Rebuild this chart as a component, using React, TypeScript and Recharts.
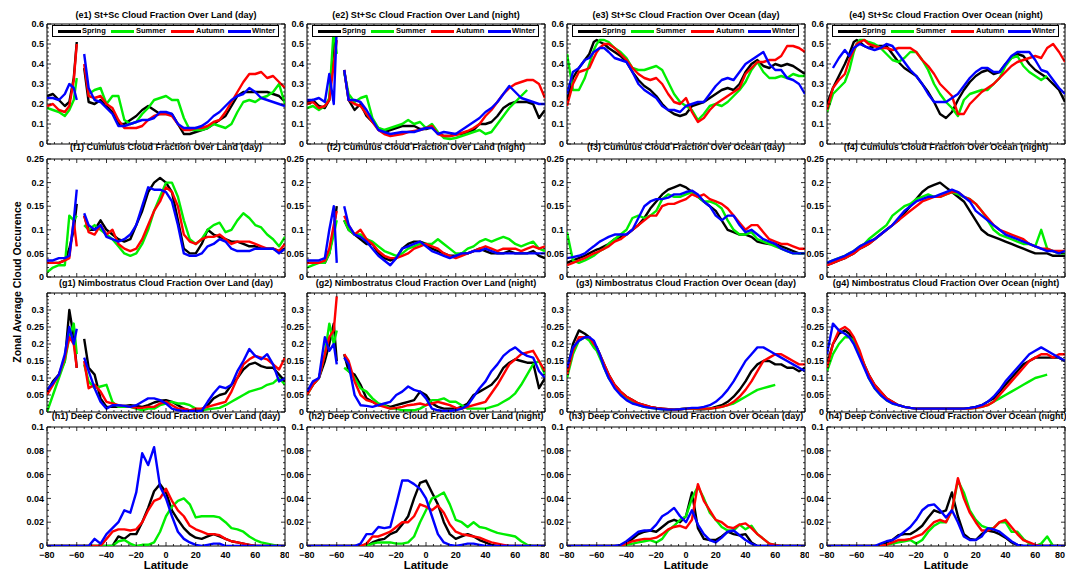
import React from "react";
import { LineChart, Line, XAxis, YAxis, ReferenceArea } from "recharts";

const N = null;

// latitude grid shared by every panel (extra points near the land gap at ~-58)
const LAT = [
  -80, -76, -72, -68, -65, -62, -60, -58, -55, -52,
  -48, -44, -40, -36, -32, -28, -24, -20, -16, -12, -8, -4,
  0,
  4, 8, 12, 16, 20, 24, 28, 32, 36, 40, 44, 48, 52, 56, 60, 64, 68, 72, 76, 80,
];

// each panel: [Spring, Summer, Autumn, Winter]
const E1 = [
  [0.24,0.25,0.22,0.19,0.21,0.33,0.51,N,0.38,0.21, 0.20,0.22,0.19,0.16,0.10,0.10,0.12,0.14,0.17,0.19,0.17,0.15, 0.15, 0.15,0.10,0.05,0.05,0.06,0.07,0.08,0.10,0.12,0.14,0.19,0.24,0.26,0.26,0.26,0.26,0.26,0.25,0.24,0.21],
  [0.18,0.17,0.16,0.14,0.17,0.22,0.33,N,N,0.25, 0.27,0.28,0.20,0.24,0.24,0.12,0.10,0.11,0.15,0.18,0.22,0.23, 0.24, 0.22,0.22,0.13,0.07,0.07,0.07,0.08,0.10,0.09,0.08,0.10,0.16,0.21,0.22,0.21,0.23,0.24,0.26,0.30,0.20],
  [0.19,0.20,0.17,0.16,0.19,0.32,0.50,N,0.40,0.24, 0.23,0.24,0.20,0.18,0.12,0.08,0.08,0.08,0.09,0.12,0.14,0.15, 0.15, 0.14,0.10,0.07,0.07,0.08,0.08,0.09,0.11,0.12,0.16,0.21,0.26,0.31,0.35,0.35,0.36,0.33,0.34,0.31,0.28],
  [0.23,0.23,0.22,0.25,0.30,0.28,0.22,N,0.45,0.28, 0.22,0.21,0.18,0.15,0.09,0.09,0.10,0.11,0.12,0.12,0.13,0.16, 0.16, 0.15,0.10,0.08,0.08,0.08,0.09,0.11,0.14,0.16,0.19,0.22,0.24,0.25,0.28,0.26,0.23,0.22,0.21,0.20,0.19],
];
const E2 = [
  [0.21,0.22,0.19,0.18,0.22,0.50,0.55,N,0.37,0.22, 0.17,0.20,0.14,0.11,0.08,0.06,0.07,0.08,0.09,0.09,0.09,0.075, 0.075, 0.085,0.055,0.04,0.04,0.05,0.05,0.06,0.07,0.10,0.10,0.11,0.14,0.18,0.20,0.21,0.21,0.21,0.20,0.13,0.17],
  [0.18,0.19,0.17,0.19,0.23,0.58,0.45,N,0.36,0.25, 0.21,0.23,0.24,0.13,0.08,0.07,0.08,0.09,0.10,0.12,0.10,0.11, 0.08, 0.10,0.06,0.03,0.025,0.03,0.04,0.05,0.06,0.07,0.05,0.06,0.10,0.14,0.18,0.21,0.24,0.27,N,N,N],
  [0.20,0.21,0.18,0.19,0.22,0.40,0.52,N,0.37,0.22, 0.20,0.19,0.15,0.11,0.07,0.05,0.04,0.045,0.05,0.06,0.065,0.07, 0.08, 0.09,0.05,0.04,0.04,0.045,0.055,0.065,0.08,0.10,0.14,0.17,0.21,0.25,0.28,0.30,0.31,0.32,0.32,0.30,0.23],
  [0.22,0.22,0.23,0.21,0.35,0.20,0.58,N,0.37,0.22, 0.22,0.21,0.17,0.12,0.07,0.06,0.05,0.055,0.06,0.06,0.06,0.07, 0.08, 0.08,0.05,0.06,0.055,0.05,0.07,0.09,0.11,0.13,0.16,0.18,0.21,0.25,0.29,0.26,0.23,0.22,0.21,0.20,0.20],
];
const E3 = [
  [0.22,0.33,0.38,0.42,0.45,0.51,0.52,0.51,0.50,0.48, 0.46,0.44,0.41,0.36,0.32,0.29,0.27,0.24,0.20,0.17,0.15,0.14, 0.15, 0.19,0.20,0.21,0.23,0.25,0.27,0.28,0.27,0.30,0.36,0.40,0.42,0.39,0.38,0.40,0.39,0.40,0.39,0.37,0.35],
  [0.45,0.27,0.27,0.33,0.40,0.47,0.50,0.52,0.52,0.51, 0.48,0.46,0.43,0.38,0.37,0.37,0.38,0.39,0.37,0.31,0.25,0.21, 0.19, 0.17,0.12,0.15,0.19,0.20,0.19,0.21,0.24,0.27,0.31,0.37,0.41,0.36,0.33,0.33,0.34,0.33,0.35,0.34,0.34],
  [0.19,0.30,0.36,0.37,0.38,0.43,0.46,0.48,0.50,0.50, 0.48,0.45,0.42,0.38,0.35,0.33,0.32,0.33,0.30,0.25,0.21,0.20, 0.23, 0.16,0.11,0.13,0.17,0.20,0.22,0.24,0.26,0.28,0.35,0.38,0.41,0.41,0.42,0.42,0.44,0.49,0.49,0.48,0.46],
  [0.25,0.36,0.38,0.42,0.43,0.46,0.47,0.48,0.48,0.46, 0.43,0.42,0.41,0.36,0.30,0.27,0.25,0.23,0.19,0.17,0.17,0.16, 0.19, 0.20,0.21,0.21,0.25,0.29,0.32,0.33,0.32,0.36,0.40,0.42,0.44,0.46,0.40,0.37,0.37,0.33,0.32,0.30,0.25],
];
const E4 = [
  [0.20,0.28,0.34,0.40,0.45,0.51,0.52,0.51,0.49,0.48, 0.49,0.49,0.49,0.45,0.41,0.38,0.36,0.34,0.30,0.26,0.21,0.15, 0.13, 0.16,0.22,0.27,0.31,0.34,0.36,0.37,0.35,0.36,0.40,0.43,0.45,0.44,0.40,0.37,0.35,0.33,0.30,0.27,0.21],
  [0.16,0.25,0.28,0.31,0.37,0.46,0.50,0.52,0.52,0.51, 0.50,0.48,0.45,0.42,0.41,0.43,0.46,0.46,0.42,0.37,0.30,0.25, 0.21, 0.18,0.14,0.22,0.25,0.26,0.27,0.27,0.30,0.33,0.39,0.43,0.44,0.39,0.36,0.34,0.32,0.34,N,N,N],
  [0.17,0.28,0.32,0.35,0.42,0.47,0.50,0.51,0.52,0.50, 0.49,0.48,0.48,0.47,0.48,0.48,0.48,0.46,0.42,0.39,0.35,0.30, 0.27, 0.24,0.15,0.15,0.20,0.23,0.26,0.28,0.30,0.33,0.36,0.39,0.41,0.42,0.43,0.44,0.43,0.48,0.50,0.46,0.41],
  [N,0.38,0.43,0.47,0.44,0.48,0.49,0.50,0.49,0.48, 0.47,0.48,0.50,0.49,0.45,0.41,0.37,0.34,0.30,0.25,0.21,0.21, 0.21, 0.23,0.25,0.29,0.33,0.36,0.38,0.38,0.36,0.36,0.40,0.44,0.46,0.46,0.46,0.42,0.37,0.36,0.32,0.28,0.25],
];

const F1 = [
  [0.03,0.03,0.03,0.035,0.06,0.10,0.155,N,0.13,0.10, 0.10,0.12,0.10,0.09,0.08,0.075,0.08,0.11,0.14,0.18,0.20,0.21, 0.20, 0.18,0.12,0.06,0.05,0.05,0.07,0.10,0.09,0.085,0.08,0.075,0.075,0.07,0.065,0.065,0.06,0.06,0.06,0.055,0.06],
  [0.01,0.02,0.025,0.025,0.13,0.12,0.13,N,0.11,0.10, 0.11,0.10,0.09,0.08,0.065,0.05,0.045,0.05,0.07,0.10,0.14,0.17, 0.20, 0.20,0.17,0.12,0.08,0.07,0.08,0.10,0.11,0.115,0.095,0.10,0.12,0.135,0.125,0.11,0.105,0.09,0.08,0.065,0.085],
  [0.03,0.03,0.03,0.035,0.04,0.12,0.065,N,0.13,0.095, 0.09,0.11,0.09,0.10,0.07,0.06,0.055,0.06,0.08,0.11,0.14,0.16, 0.19, 0.18,0.15,0.09,0.075,0.07,0.08,0.085,0.085,0.09,0.08,0.07,0.075,0.075,0.075,0.07,0.065,0.06,0.06,0.055,0.07],
  [0.035,0.035,0.04,0.04,0.045,0.12,0.185,N,0.135,0.11, 0.10,0.11,0.085,0.08,0.075,0.08,0.09,0.11,0.15,0.19,0.185,0.185, 0.18, 0.16,0.11,0.05,0.045,0.045,0.05,0.065,0.07,0.08,0.075,0.06,0.055,0.055,0.055,0.06,0.06,0.06,0.06,0.05,0.06],
];
const F2 = [
  [0.03,0.03,0.03,0.03,0.05,0.10,0.15,N,0.12,0.10, 0.09,0.08,0.07,0.07,0.05,0.04,0.035,0.04,0.06,0.07,0.075,0.075, 0.07, 0.06,0.055,0.05,0.045,0.045,0.05,0.05,0.055,0.06,0.055,0.05,0.05,0.05,0.055,0.05,0.05,0.05,0.055,0.045,0.04],
  [0.02,0.025,0.03,0.03,0.05,0.09,0.12,N,0.12,0.10, 0.09,0.09,0.08,0.075,0.065,0.055,0.05,0.045,0.05,0.06,0.065,0.07, 0.07, 0.07,0.08,0.07,0.06,0.05,0.05,0.06,0.065,0.075,0.08,0.075,0.08,0.085,0.08,0.07,0.065,0.07,0.075,0.06,0.055],
  [0.03,0.03,0.03,0.035,0.06,0.11,0.14,N,0.13,0.11, 0.09,0.10,0.08,0.07,0.055,0.045,0.04,0.04,0.045,0.05,0.06,0.065, 0.07, 0.065,0.06,0.05,0.045,0.04,0.045,0.05,0.055,0.06,0.065,0.06,0.055,0.06,0.06,0.06,0.055,0.06,0.065,0.06,0.065],
  [0.035,0.035,0.035,0.04,0.10,0.15,0.03,N,0.15,0.11, 0.09,0.085,0.075,0.06,0.045,0.035,0.025,0.04,0.06,0.065,0.07,0.075, 0.065, 0.055,0.05,0.045,0.04,0.045,0.05,0.05,0.055,0.055,0.06,0.055,0.05,0.05,0.05,0.05,0.05,0.05,0.05,0.05,0.05],
];
const F3 = [
  [0.03,0.035,0.04,0.045,0.05,0.055,0.058,0.06,0.065,0.07, 0.08,0.085,0.09,0.10,0.11,0.125,0.145,0.16,0.175,0.185,0.19,0.195, 0.19, 0.18,0.17,0.16,0.15,0.14,0.12,0.10,0.095,0.09,0.09,0.085,0.075,0.072,0.07,0.07,0.065,0.06,0.055,0.05,0.05],
  [0.095,0.035,0.03,0.035,0.04,0.045,0.05,0.055,0.06,0.07, 0.08,0.09,0.10,0.125,0.13,0.125,0.13,0.14,0.165,0.175,0.17,0.17, 0.175, 0.18,0.17,0.16,0.16,0.155,0.145,0.12,0.10,0.09,0.09,0.095,0.08,0.075,0.07,0.065,0.06,0.055,0.05,0.05,0.05],
  [0.025,0.03,0.035,0.04,0.045,0.05,0.052,0.055,0.06,0.065, 0.075,0.08,0.09,0.10,0.11,0.12,0.13,0.13,0.15,0.155,0.155,0.16, 0.165, 0.175,0.17,0.175,0.165,0.16,0.155,0.145,0.13,0.115,0.10,0.11,0.11,0.095,0.08,0.075,0.07,0.07,0.065,0.06,0.06],
  [0.04,0.042,0.045,0.05,0.058,0.065,0.07,0.075,0.08,0.085, 0.09,0.09,0.09,0.10,0.125,0.15,0.16,0.165,0.165,0.168,0.175,0.175, 0.18, 0.183,0.175,0.16,0.15,0.13,0.12,0.13,0.13,0.11,0.095,0.10,0.09,0.08,0.075,0.07,0.06,0.055,0.05,0.05,0.05],
];
const F4 = [
  [0.025,0.03,0.035,0.04,0.045,0.05,0.055,0.06,0.065,0.07, 0.08,0.09,0.10,0.11,0.12,0.135,0.15,0.165,0.18,0.19,0.195,0.20, 0.19, 0.18,0.17,0.16,0.14,0.12,0.10,0.09,0.085,0.08,0.075,0.07,0.065,0.06,0.055,0.05,0.05,0.05,0.045,0.045,0.045],
  [0.03,0.035,0.04,0.045,0.05,0.055,0.06,0.065,0.07,0.08, 0.09,0.10,0.11,0.13,0.14,0.15,0.155,0.165,0.17,0.175,0.17,0.17, 0.175, 0.18,0.175,0.17,0.165,0.155,0.14,0.12,0.10,0.09,0.085,0.08,0.075,0.07,0.07,0.065,0.10,0.06,0.055,0.05,0.05],
  [0.025,0.03,0.035,0.04,0.045,0.05,0.055,0.06,0.065,0.07, 0.08,0.09,0.10,0.11,0.12,0.13,0.14,0.15,0.16,0.165,0.17,0.17, 0.175, 0.18,0.18,0.17,0.165,0.155,0.14,0.125,0.11,0.10,0.095,0.09,0.085,0.08,0.07,0.065,0.06,0.06,0.055,0.055,0.055],
  [0.03,0.035,0.04,0.045,0.05,0.055,0.06,0.065,0.07,0.075, 0.08,0.09,0.10,0.11,0.125,0.14,0.15,0.16,0.165,0.17,0.17,0.175, 0.18, 0.185,0.18,0.17,0.16,0.14,0.13,0.12,0.11,0.10,0.09,0.085,0.08,0.075,0.07,0.065,0.06,0.055,0.055,0.05,0.055],
];

const G1 = [
  [0.06,0.09,0.11,0.15,0.30,0.22,0.13,N,0.215,0.13, 0.11,0.04,0.015,0.015,0.015,0.018,0.02,0.018,0.015,0.02,0.028,0.033, 0.035, 0.03,0.02,0.01,0.005,0.005,0.008,0.02,0.04,0.05,0.055,0.08,0.10,0.125,0.14,0.145,0.135,0.13,0.13,0.11,0.09],
  [0.0,0.05,0.10,0.15,0.22,0.26,0.17,N,0.14,0.09, 0.07,0.075,0.08,0.03,0.015,0.015,0.015,0.01,0.005,0.01,0.01,0.02, 0.025, 0.03,0.025,0.025,0.02,0.01,0.005,0.008,0.01,0.012,0.02,0.03,0.04,0.05,0.06,0.065,0.07,0.08,0.085,0.10,0.08],
  [0.05,0.08,0.11,0.16,0.22,0.20,0.13,N,0.15,0.07, 0.08,0.06,0.03,0.025,0.02,0.018,0.015,0.012,0.012,0.015,0.015,0.025, 0.03, 0.02,0.01,0.01,0.005,0.01,0.01,0.015,0.02,0.025,0.03,0.06,0.10,0.14,0.155,0.165,0.16,0.155,0.14,0.125,0.16],
  [0.065,0.085,0.11,0.17,0.25,0.20,0.245,N,0.16,0.12, 0.07,0.03,0.01,0.02,0.02,0.018,0.015,0.02,0.03,0.04,0.04,0.035, 0.025, 0.01,0.005,0.003,0.003,0.003,0.003,0.03,0.055,0.075,0.07,0.08,0.12,0.15,0.185,0.165,0.155,0.17,0.14,0.09,0.10],
];
const G2 = [
  [0.055,0.08,0.10,0.15,0.20,0.26,0.15,N,0.17,0.12, 0.11,0.08,0.04,0.03,0.02,0.02,0.015,0.02,0.025,0.03,0.035,0.06, 0.05, 0.025,0.015,0.01,0.01,0.01,0.015,0.025,0.05,0.06,0.07,0.08,0.10,0.13,0.145,0.155,0.15,0.145,0.145,0.07,0.10],
  [0.05,0.08,0.10,0.17,0.26,0.20,0.24,N,0.13,0.12, 0.10,0.07,0.06,0.04,0.025,0.02,0.01,0.01,0.005,0.005,0.005,0.01, 0.02, 0.035,0.035,0.04,0.03,0.03,0.02,0.01,0.01,0.01,0.01,0.015,0.02,0.03,0.04,0.055,0.08,0.11,0.14,0.15,0.11],
  [0.05,0.08,0.10,0.17,0.22,0.24,0.34,N,0.17,0.15, 0.09,0.05,0.035,0.03,0.02,0.015,0.01,0.012,0.015,0.02,0.022,0.025, 0.02, 0.025,0.03,0.025,0.02,0.012,0.01,0.015,0.02,0.025,0.03,0.055,0.08,0.11,0.14,0.155,0.17,0.175,0.18,0.15,0.12],
  [0.06,0.09,0.10,0.22,0.18,0.20,0.14,N,0.16,0.14, 0.05,0.02,0.018,0.015,0.02,0.025,0.03,0.05,0.06,0.075,0.065,0.06, 0.04, 0.01,0.005,0.003,0.003,0.005,0.01,0.02,0.045,0.07,0.09,0.12,0.14,0.165,0.18,0.19,0.175,0.165,0.16,0.12,0.10],
];
const G3 = [
  [0.12,0.20,0.24,0.23,0.22,0.20,0.19,0.17,0.14,0.11, 0.08,0.06,0.045,0.035,0.025,0.02,0.015,0.012,0.01,0.008,0.007,0.008, 0.01, 0.01,0.008,0.008,0.01,0.015,0.02,0.03,0.045,0.065,0.09,0.12,0.14,0.15,0.15,0.14,0.14,0.13,0.13,0.12,0.13],
  [0.10,0.17,0.21,0.22,0.21,0.19,0.18,0.16,0.13,0.10, 0.075,0.055,0.04,0.03,0.02,0.015,0.012,0.01,0.008,0.007,0.007,0.008, 0.01, 0.01,0.01,0.01,0.01,0.012,0.015,0.02,0.025,0.035,0.045,0.055,0.065,0.07,0.075,0.08,N,N,N,N,N],
  [0.11,0.18,0.22,0.22,0.22,0.20,0.19,0.17,0.14,0.11, 0.08,0.06,0.045,0.035,0.025,0.02,0.015,0.012,0.01,0.008,0.007,0.008, 0.01, 0.01,0.01,0.01,0.01,0.012,0.015,0.02,0.03,0.045,0.065,0.09,0.12,0.15,0.16,0.17,0.17,0.16,0.15,0.14,0.14],
  [0.13,0.19,0.21,0.22,0.22,0.21,0.19,0.17,0.13,0.10, 0.07,0.05,0.035,0.025,0.02,0.015,0.012,0.01,0.008,0.007,0.007,0.008, 0.01, 0.012,0.012,0.015,0.02,0.03,0.045,0.065,0.09,0.12,0.15,0.17,0.19,0.19,0.18,0.17,0.16,0.15,0.14,0.13,0.12],
];
const G4 = [
  [0.14,0.20,0.23,0.24,0.23,0.21,0.19,0.17,0.14,0.11, 0.08,0.06,0.04,0.03,0.02,0.015,0.012,0.01,0.01,0.01,0.01,0.01, 0.01, 0.01,0.01,0.01,0.012,0.015,0.02,0.03,0.04,0.06,0.08,0.10,0.12,0.14,0.15,0.16,0.16,0.16,0.16,0.16,0.15],
  [0.12,0.17,0.20,0.22,0.22,0.21,0.19,0.17,0.14,0.10, 0.07,0.05,0.035,0.025,0.02,0.015,0.012,0.01,0.01,0.01,0.01,0.01, 0.01, 0.01,0.01,0.01,0.01,0.012,0.015,0.02,0.03,0.04,0.05,0.06,0.07,0.08,0.09,0.10,0.105,0.11,N,N,N],
  [0.13,0.20,0.24,0.25,0.24,0.22,0.20,0.18,0.14,0.11, 0.08,0.06,0.04,0.03,0.02,0.015,0.012,0.01,0.01,0.01,0.01,0.01, 0.01, 0.01,0.01,0.01,0.01,0.012,0.015,0.02,0.03,0.05,0.07,0.09,0.11,0.13,0.15,0.16,0.17,0.17,0.16,0.17,0.17],
  [0.17,0.26,0.24,0.23,0.22,0.20,0.18,0.16,0.13,0.10, 0.07,0.05,0.035,0.025,0.02,0.015,0.012,0.01,0.01,0.01,0.01,0.01, 0.01, 0.01,0.01,0.01,0.012,0.015,0.02,0.03,0.045,0.065,0.09,0.11,0.13,0.15,0.17,0.18,0.19,0.18,0.17,0.16,0.15],
];

const H1 = [
  [0,0,0,0,0,0,0,0,0,0, 0,0,0,0,0.008,0.006,0.01,0.01,0.02,0.032,0.046,0.052, 0.045, 0.03,0.022,0.015,0.01,0.007,0.006,0.008,0.01,0.008,0.006,0.004,0.003,0.002,0.001,0,0,0,0,0,0],
  [0,0,0,0,0,0,0,0,0,0, 0,0,0,0,0.004,0.005,0.002,0,0.001,0.001,0.003,0.012, 0.025, 0.033,0.038,0.04,0.035,0.024,0.025,0.025,0.025,0.024,0.02,0.015,0.014,0.012,0.008,0.005,0.003,0.002,0.001,0,0],
  [0,0,0,0,0,0,0,0,0,0, 0,0,0.006,0.012,0.014,0.014,0.013,0.014,0.02,0.03,0.038,0.04, 0.048, 0.038,0.03,0.025,0.017,0.014,0.012,0.01,0.01,0.009,0.006,0.004,0.003,0.002,0.001,0,0,0,0,0,0],
  [0,0,0,0,0,0,0,0,0,0, 0.006,0.002,0.01,0.015,0.02,0.03,0.028,0.045,0.078,0.068,0.083,0.05, 0.04, 0.025,0.012,0.006,0.003,0.001,0,0.001,0.002,0.002,0,0,0,0,0,0,0,0,0,0,0],
];
const H2 = [
  [0,0,0,0,0,0,0,0,0,0, 0,0,0,0.003,0.005,0.006,0.01,0.012,0.018,0.025,0.04,0.053, 0.055, 0.045,0.035,0.02,0.01,0.006,0.008,0.01,0.008,0.005,0.003,0.001,0,0,0,0,0,0,0,0,0],
  [0,0,0,0,0,0,0,0,0,0, 0,0,0,0.002,0.003,0.003,0.003,0.002,0.002,0.003,0.008,0.02, 0.03, 0.04,0.042,0.045,0.035,0.022,0.02,0.016,0.02,0.016,0.015,0.013,0.011,0.01,0.009,0.008,0.004,0.001,0,0,0],
  [0,0,0,0,0,0,0,0,0,0, 0,0,0.002,0.008,0.008,0.01,0.012,0.016,0.02,0.02,0.025,0.035, 0.033, 0.03,0.034,0.028,0.018,0.012,0.01,0.009,0.008,0.007,0.005,0.003,0.002,0.001,0,0,0,0,0,0,0],
  [0,0,0,0,0,0,0,0,0,0, 0,0.002,0.01,0.01,0.016,0.015,0.016,0.035,0.055,0.055,0.052,0.048, 0.04, 0.025,0.01,0.003,0.001,0,0.001,0.002,0.002,0.001,0,0,0,0,0,0,0,0,0,0,0],
];
const H3 = [
  [0,0,0,0,0,0,0,0,0,0, 0,0,0.002,0.006,0.01,0.012,0.013,0.012,0.016,0.02,0.022,0.02, 0.025, 0.045,0.015,0.006,0.005,0.005,0.008,0.012,0.01,0.009,0.01,0.003,0,0,0,0,0,0,0,0,0],
  [0,0,0,0,0,0,0,0,0,0, 0,0,0.001,0.002,0.003,0.004,0.005,0.003,0.006,0.013,0.017,0.022, 0.025, 0.04,0.05,0.04,0.028,0.022,0.016,0.013,0.013,0.018,0.014,0.017,0.01,0.006,0.002,0.001,0,0,0,0,0],
  [0,0,0,0,0,0,0,0,0,0, 0,0,0.002,0.004,0.005,0.006,0.006,0.007,0.01,0.014,0.016,0.017, 0.015, 0.022,0.052,0.038,0.03,0.022,0.02,0.016,0.015,0.018,0.019,0.015,0.01,0.006,0.002,0.001,0,0,0,0,0],
  [0,0,0,0,0,0,0,0,0,0, 0,0.001,0.004,0.008,0.012,0.013,0.013,0.018,0.025,0.028,0.032,0.025, 0.02, 0.03,0.018,0.01,0.005,0.003,0.007,0.012,0.013,0.009,0.005,0.002,0,0,0,0,0,0,0,0,0],
];
const H4 = [
  [0,0,0,0,0,0,0,0,0,0, 0,0,0.003,0.005,0.009,0.01,0.01,0.013,0.017,0.024,0.03,0.028, 0.03, 0.045,0.025,0.01,0.006,0.005,0.01,0.013,0.012,0.01,0.007,0.003,0.001,0,0,0,0,0,0,0,0],
  [0,0,0,0,0,0,0,0,0,0, 0,0,0.001,0.002,0.003,0.004,0.005,0.002,0.005,0.012,0.017,0.02, 0.02, 0.03,0.055,0.045,0.03,0.022,0.017,0.015,0.015,0.02,0.02,0.012,0.012,0.006,0.002,0,0.002,0.008,0,0,0],
  [0,0,0,0,0,0,0,0,0,0, 0,0,0.001,0.003,0.005,0.005,0.006,0.008,0.01,0.015,0.02,0.022, 0.02, 0.03,0.057,0.04,0.028,0.02,0.013,0.013,0.015,0.02,0.022,0.016,0.01,0.005,0.003,0.001,0,0,0,0,0],
  [0,0,0,0,0,0,0,0,0,0, 0,0.002,0.004,0.005,0.008,0.012,0.016,0.022,0.03,0.034,0.035,0.03, 0.024, 0.03,0.02,0.008,0.005,0.005,0.008,0.015,0.014,0.012,0.008,0.004,0.001,0,0,0,0,0,0,0,0],
];

const PANELS = [
  [E1, E2, E3, E4],
  [F1, F2, F3, F4],
  [G1, G2, G3, G4],
  [H1, H2, H3, H4],
];

const TITLES = [
  ["(e1) St+Sc Cloud Fraction Over Land (day)", "(e2) St+Sc Cloud Fraction Over Land (night)", "(e3) St+Sc Cloud Fraction Over Ocean (day)", "(e4) St+Sc Cloud Fraction Over Ocean (night)"],
  ["(f1) Cumulus Cloud Fraction Over Land (day)", "(f2) Cumulus Cloud Fraction Over Land (night)", "(f3) Cumulus Cloud Fraction Over Ocean (day)", "(f4) Cumulus Cloud Fraction Over Ocean (night)"],
  ["(g1) Nimbostratus Cloud Fraction Over Land (day)", "(g2) Nimbostratus Cloud Fraction Over Land (night)", "(g3) Nimbostratus Cloud Fraction Over Ocean (day)", "(g4) Nimbostratus Cloud Fraction Over Ocean (night)"],
  ["(h1) Deep Convective Cloud Fraction Over Land (day)", "(h2) Deep Convective Cloud Fraction Over Land (night)", "(h3) Deep Convective Cloud Fraction Over Ocean (day)", "(h4) Deep Convective Cloud Fraction Over Ocean (night)"],
];

const SEASONS = ["Spring", "Summer", "Autumn", "Winter"];
const KEYS = ["spring", "summer", "autumn", "winter"];
const COLORS = ["#000000", "#00ee00", "#ff0000", "#0000ff"];

const Y_MAX = [0.6, 0.25, 0.35, 0.1];
const Y_MINOR_STEP = [0.02, 0.01, 0.01, 0.005];
const Y_LABELS = [
  [0, 0.1, 0.2, 0.3, 0.4, 0.5, 0.6],
  [0, 0.05, 0.1, 0.15, 0.2, 0.25],
  [0, 0.05, 0.1, 0.15, 0.2, 0.25, 0.3],
  [0, 0.02, 0.04, 0.06, 0.08, 0.1],
];
const X_LABELS = [-80, -60, -40, -20, 0, 20, 40, 60, 80];
const X_MINOR = Array.from({ length: 33 }, (_, i) => -80 + i * 5);

// layout
const COL_X = [47, 307, 567, 827];
const ROW_Y = [24, 159, 293, 427];
const ROW_H = [120, 118, 119, 119];
const TITLE_Y = [15, 147, 283, 416];
const PW = 238;
const PAD_L = 45;
const PAD_T = 20;
const FONT = "'Liberation Sans', Arial, Helvetica, sans-serif";

const yTicks = (row: number) => {
  const step = Y_MINOR_STEP[row];
  const n = Math.round(Y_MAX[row] / step);
  return Array.from({ length: n + 1 }, (_, i) => Math.round(i * step * 1e6) / 1e6);
};

const isIn = (arr: number[], v: number) => arr.some((a) => Math.abs(a - v) < 1e-9);

const fmt = (v: number) => (v < 0 ? "\u2212" + Math.abs(v) : String(v));

function Panel({ row, col }: { row: number; col: number }) {
  const series = PANELS[row][col];
  const data = LAT.map((lat, i) => ({
    lat,
    spring: series[0][i],
    summer: series[1][i],
    autumn: series[2][i],
    winter: series[3][i],
  }));
  const h = ROW_H[row];
  const isBottom = row === 3;
  const xh = isBottom ? 26 : 2;
  const W = PAD_L + PW + 4;
  const H = PAD_T + h + xh + 2;
  const top = PAD_T;
  const bot = PAD_T + h;
  const left = PAD_L;
  const right = PAD_L + PW;
  const majorsY = Y_LABELS[row];
  const majorStepY = majorsY[1];

  const xTick = (props: any) => {
    const { x, payload } = props;
    const v = payload.value;
    const major = isIn(X_LABELS, v);
    const len = major ? 4 : 2;
    // keep the last label of the last column inside the page
    const edge = col === 3 && v === 80;
    return (
      <g>
        <line x1={x} x2={x} y1={bot} y2={bot - len} stroke="#000" strokeWidth={0.8} />
        <line x1={x} x2={x} y1={top} y2={top + len} stroke="#000" strokeWidth={0.8} />
        {isBottom && major && (
          <text
            x={edge ? x : x}
            y={bot + 12}
            textAnchor={edge ? "end" : "middle"}
            fontSize={9}
            fontWeight="bold"
            fontFamily={FONT}
            fill="#000"
          >
            {fmt(v)}
          </text>
        )}
      </g>
    );
  };

  const yTick = (props: any) => {
    const { y, payload } = props;
    const v = payload.value;
    const major = Math.abs(v / majorStepY - Math.round(v / majorStepY)) < 1e-6;
    const len = major ? 4 : 2;
    return (
      <g>
        <line x1={left} x2={left + len} y1={y} y2={y} stroke="#000" strokeWidth={0.8} />
        <line x1={right} x2={right - len} y1={y} y2={y} stroke="#000" strokeWidth={0.8} />
        {isIn(majorsY, v) && (
          <text x={left - 3} y={y} dy="0.35em" textAnchor="end" fontSize={9} fontWeight="bold" fontFamily={FONT} fill="#000">
            {fmt(v)}
          </text>
        )}
      </g>
    );
  };

  return (
    <div style={{ position: "absolute", left: COL_X[col] - PAD_L, top: ROW_Y[row] - PAD_T }}>
      <LineChart width={W} height={H} data={data} margin={{ top: PAD_T, right: 4, bottom: 2, left: 5 }}>
        <XAxis
          dataKey="lat"
          type="number"
          domain={[-80, 80]}
          ticks={X_MINOR}
          interval={0}
          height={xh}
          axisLine={false}
          tickLine={false}
          tick={xTick}
          allowDataOverflow
        />
        <YAxis
          type="number"
          domain={[0, Y_MAX[row]]}
          ticks={yTicks(row)}
          interval={0}
          width={40}
          axisLine={false}
          tickLine={false}
          tick={yTick}
          allowDataOverflow
        />
        {KEYS.map((k, i) => (
          <Line
            key={k}
            type="linear"
            dataKey={k}
            name={SEASONS[i]}
            stroke={COLORS[i]}
            strokeWidth={2.4}
            strokeLinejoin="round"
            dot={false}
            activeDot={false}
            isAnimationActive={false}
          />
        ))}
        <ReferenceArea x1={-80} x2={80} y1={0} y2={Y_MAX[row]} fill="none" stroke="#000" strokeWidth={1} ifOverflow="visible" />
      </LineChart>
    </div>
  );
}

const LEGEND_POS = [
  { line: 5, text: 29 },
  { line: 58, text: 83 },
  { line: 118, text: 143 },
  { line: 175, text: 199 },
];

function LegendBox({ col }: { col: number }) {
  return (
    <div
      style={{
        position: "absolute",
        left: COL_X[col] + 5,
        top: ROW_Y[0] + 1,
        width: 227,
        height: 12,
        border: "1px solid #000",
        background: "#fff",
        boxSizing: "border-box",
        fontFamily: FONT,
        fontWeight: "bold",
        fontSize: 7.5,
      }}
    >
      {SEASONS.map((s, i) => (
        <React.Fragment key={s}>
          <div style={{ position: "absolute", left: LEGEND_POS[i].line, top: 4, width: 23, height: 2.5, background: COLORS[i] }} />
          <div style={{ position: "absolute", left: LEGEND_POS[i].text, top: 0, lineHeight: "10px", whiteSpace: "nowrap" }}>{s}</div>
        </React.Fragment>
      ))}
    </div>
  );
}

export default function App() {
  return (
    <div style={{ position: "absolute", left: 0, top: 0, width: 1066, height: 570, background: "#fff", overflow: "hidden", fontFamily: FONT }}>
      {PANELS.map((r, row) => r.map((_, col) => <Panel key={`${row}-${col}`} row={row} col={col} />))}
      {[0, 1, 2, 3].map((col) => (
        <LegendBox key={`lg${col}`} col={col} />
      ))}
      {TITLES.map((r, row) =>
        r.map((t, col) => (
          <div
            key={`t${row}-${col}`}
            style={{
              position: "absolute",
              left: COL_X[col] + PW / 2,
              top: TITLE_Y[row] - 6,
              transform: "translateX(-50%)",
              fontSize: 9,
              lineHeight: "12px",
              fontWeight: "bold",
              whiteSpace: "nowrap",
            }}
          >
            {t}
          </div>
        ))
      )}
      {[0, 1, 2, 3].map((col) => (
        <div
          key={`xl${col}`}
          style={{
            position: "absolute",
            left: COL_X[col] + PW / 2,
            top: 558,
            transform: "translateX(-50%)",
            fontSize: 11.5,
            lineHeight: "14px",
            fontWeight: "bold",
          }}
        >
          Latitude
        </div>
      ))}
      <div
        style={{
          position: "absolute",
          left: 17,
          top: 282,
          transform: "translate(-50%, -50%) rotate(-90deg)",
          fontSize: 10.5,
          fontWeight: "bold",
          whiteSpace: "nowrap",
        }}
      >
        Zonal Average Cloud Occurence
      </div>
    </div>
  );
}
